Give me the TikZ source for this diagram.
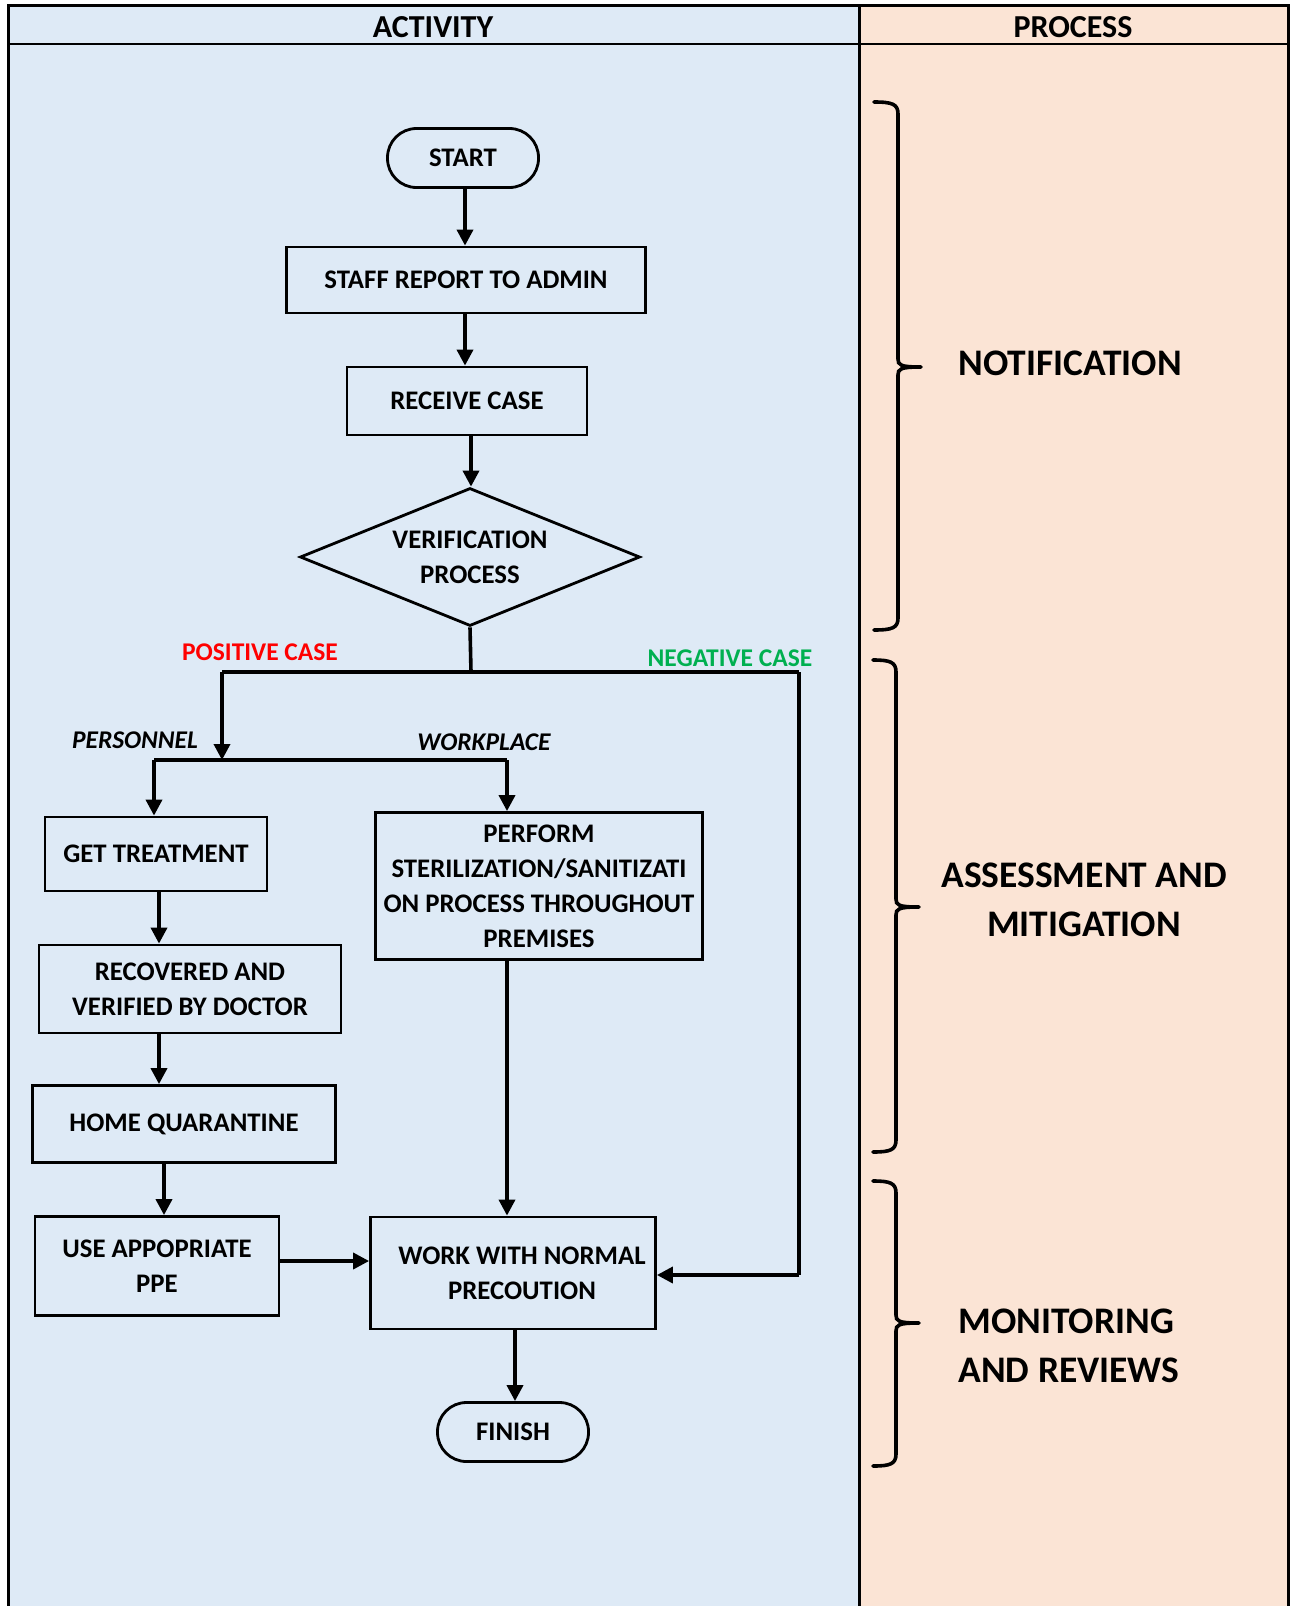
\documentclass[tikz,border=0pt]{standalone}
\usepackage{fontspec}
\setmainfont{Carlito}
\usetikzlibrary{arrows.meta,shapes.geometric}
\definecolor{actbg}{HTML}{DEEAF6}
\definecolor{procbg}{HTML}{FBE4D5}
\definecolor{posred}{HTML}{FF0000}
\definecolor{neggreen}{HTML}{00B050}
\newcommand\mybrace[5]{% top, mid, bottom, xvert, xleft
  \draw[bracestyle] (#5,#1) .. controls (#4-6,#1) and (#4,#1+2) .. (#4,#1+12)
    -- (#4,#2-8) .. controls (#4,#2-2) and (#4+2,#2) .. (#4+23,#2)
    (#4+23,#2) .. controls (#4+2,#2) and (#4,#2+2) .. (#4,#2+8)
    -- (#4,#3-12) .. controls (#4,#3-2) and (#4-6,#3) .. (#5,#3);}
\begin{document}
\begin{tikzpicture}[x=1pt,y=-1pt,
  boxtext/.style={font=\fontsize{26.8}{35}\selectfont\bfseries, align=center, text=black},
  headtext/.style={font=\fontsize{32}{38}\selectfont\bfseries, text=black},
  box/.style={boxtext, draw=black, line width=2.8pt, inner sep=0pt, rectangle},
  term/.style={box, rounded corners=29pt},
  decide/.style={draw=black, line width=2.8pt, diamond, inner sep=0pt},
  arr/.style={line width=3.6pt, -{Triangle[length=16pt,width=16pt]}},
  conn/.style={line width=3.6pt},
  lab/.style={font=\fontsize{25.5}{30}\selectfont\bfseries},
  sidelab/.style={font=\fontsize{37.5}{49}\selectfont\bfseries, align=center},
  bracestyle/.style={line width=3.6pt, line cap=round}
]
\useasboundingbox (0,0) rectangle (1292,1606);
% columns
\fill[actbg] (8,5) rectangle (859,1606);
\fill[procbg] (859,5) rectangle (1288,1606);
\draw[line width=3pt] (8,1606) -- (8,5) -- (1288,5) -- (1288,1606);
\draw[line width=3pt] (859,5) -- (859,1606);
\draw[line width=1.8pt] (8,44) -- (1288,44);
\node[headtext] (hact) at (433,27) {ACTIVITY};
\node[headtext] (hproc) at (1073,27) {PROCESS};

% nodes
\node[term, minimum width=151pt, minimum height=59pt] (start) at (463,158) {START};
\node[box, minimum width=359pt, minimum height=66pt] (staff) at (466,280) {STAFF REPORT TO ADMIN};
\node[box, minimum width=240pt, minimum height=68pt] (receive) at (467,401) {RECEIVE CASE};
\node[decide, minimum width=340pt, minimum height=138pt,
  label={[boxtext]center:VERIFICATION\\PROCESS}] (verify) at (470,557) {};
\node[box, minimum width=222pt, minimum height=74pt] (get) at (156,854) {GET TREATMENT};
\node[box, minimum width=327pt, minimum height=147pt] (perform) at (539,886) {PERFORM\\STERILIZATION/SANITIZATI\\ON PROCESS THROUGHOUT\\PREMISES};
\node[box, minimum width=302pt, minimum height=88pt] (recovered) at (190,989) {RECOVERED AND\\VERIFIED BY DOCTOR};
\node[box, minimum width=303pt, minimum height=77pt] (home) at (184,1124) {HOME QUARANTINE};
\node[box, minimum width=244pt, minimum height=99pt] (use) at (157,1266) {USE APPOPRIATE\\PPE};
\node[box, minimum width=285pt, minimum height=112pt] (work) at (513,1273) {\hspace*{18pt}WORK WITH NORMAL\\\hspace*{18pt}PRECOUTION};
\node[term, minimum width=151pt, minimum height=59pt] (finish) at (513,1432) {FINISH};

% labels
\node[lab, text=posred] (poslab) at (260,652) {POSITIVE CASE};
\node[lab, text=neggreen] (neglab) at (730,658) {NEGATIVE CASE};
\node[lab, font=\fontsize{25.5}{30}\selectfont\bfseries\itshape] (perslab) at (135,740) {PERSONNEL};
\node[lab, font=\fontsize{25.5}{30}\selectfont\bfseries\itshape] (wplab) at (484,742) {WORKPLACE};

% junction coordinates
\coordinate (split) at (471,672);
\coordinate (posL) at (222,672);
\coordinate (negR) at (799,672);
\coordinate (posJ) at (222,760);
\coordinate (persL) at (154,760);
\coordinate (wpR) at (507,760);
\coordinate (negB) at (799,1275);

% connectors
\draw[arr] (start.south -| 465,0) -- (staff.north -| 465,0);
\draw[arr] (staff.south -| 465,0) -- (receive.north -| 465,0);
\draw[arr] (receive.south -| 471,0) -- (verify.north -| 471,0);
\draw[conn] (verify.south) -- (split);
\draw[conn] (posL) -- (negR);
\draw[arr] (posL) -- (posJ);
\draw[conn] (persL) -- (wpR);
\draw[arr] (persL) -- (persL |- get.north);
\draw[arr] (wpR) -- (wpR |- perform.north);
\draw[conn] (negR) -- (negB);
\draw[arr] (negB) -- (negB -| work.east);
\draw[arr] (get.south -| 159,0) -- (recovered.north -| 159,0);
\draw[arr] (recovered.south -| 159,0) -- (home.north -| 159,0);
\draw[arr] (home.south -| 164,0) -- (use.north -| 164,0);
\draw[arr] (use.east |- 0,1261) -- (work.west |- 0,1261);
\draw[arr] (perform.south -| 507,0) -- (work.north -| 507,0);
\draw[arr] (work.south -| 515,0) -- (finish.north -| 515,0);

% braces
\mybrace{102}{367}{630}{898}{874}
\mybrace{660}{907}{1152}{896}{873}
\mybrace{1181}{1323}{1466}{896}{873}
\node[sidelab, anchor=west] (notif) at (955,363) {NOTIFICATION};
\node[sidelab] (assess) at (1084,900) {ASSESSMENT AND\\MITIGATION};
\node[sidelab, align=left, anchor=west] (monitor) at (955,1346) {MONITORING\\AND REVIEWS};
\end{tikzpicture}
\end{document}
